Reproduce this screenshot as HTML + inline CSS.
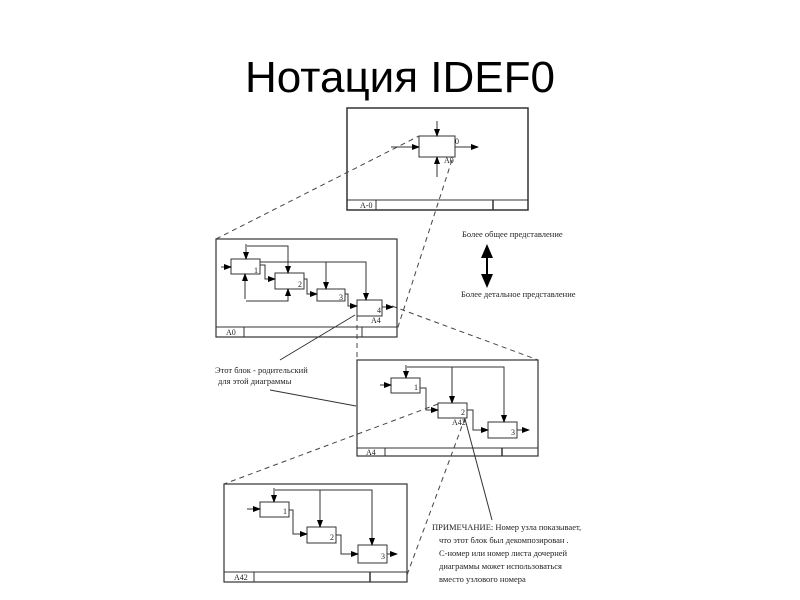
<!DOCTYPE html>
<html><head><meta charset="utf-8"><style>
html,body{margin:0;padding:0;background:#fff;width:800px;height:600px;overflow:hidden}
svg{display:block}
</style></head><body>
<svg width="800" height="600" viewBox="0 0 800 600" xmlns="http://www.w3.org/2000/svg">
<defs>
<marker id="a" markerWidth="8" markerHeight="6" refX="7" refY="3" orient="auto" markerUnits="userSpaceOnUse"><path d="M0,0 L8,3 L0,6 z" fill="#000"/></marker>
</defs>
<text x="400" y="92" font-family="Liberation Sans, sans-serif" font-size="44" text-anchor="middle" fill="#000">Нотация IDEF0</text>
<g stroke="#333" fill="none" stroke-width="1">
<!-- A-0 frame -->
<rect x="347" y="108" width="181" height="102" stroke-width="1.5"/>
<line x1="347" y1="200" x2="528" y2="200"/>
<line x1="376" y1="200" x2="376" y2="210"/>
<line x1="493" y1="200" x2="493" y2="210" stroke-width="1.5"/>
<rect x="419" y="136" width="36" height="21"/>
<line x1="391" y1="147" x2="419" y2="147" marker-end="url(#a)"/>
<line x1="455" y1="147" x2="478" y2="147" marker-end="url(#a)"/>
<line x1="437" y1="121" x2="437" y2="136" marker-end="url(#a)"/>
<line x1="437" y1="177" x2="437" y2="157" marker-end="url(#a)"/>
<!-- A0 frame -->
<rect x="216" y="239" width="181" height="98" stroke-width="1.2"/>
<line x1="216" y1="327" x2="397" y2="327"/>
<line x1="244" y1="327" x2="244" y2="337"/>
<line x1="362" y1="327" x2="362" y2="337"/>
<rect x="231" y="259" width="29" height="15"/>
<rect x="275" y="273" width="29" height="16"/>
<rect x="317" y="289" width="28" height="12"/>
<rect x="357" y="300" width="25" height="16"/>
<line x1="221" y1="267" x2="231" y2="267" marker-end="url(#a)"/>
<polyline points="246,244 246,259" marker-end="url(#a)"/>
<polyline points="247,246 288,246 288,273" marker-end="url(#a)"/>
<polyline points="260,265 265,265 265,279 275,279" marker-end="url(#a)"/>
<polyline points="260,262 326,262 326,289" marker-end="url(#a)"/>
<polyline points="260,262 366,262 366,300" marker-end="url(#a)"/>
<polyline points="304,279 307,279 307,294 317,294" marker-end="url(#a)"/>
<polyline points="345,294 348,294 348,306 357,306" marker-end="url(#a)"/>
<polyline points="245,299 245,274" marker-end="url(#a)"/>
<polyline points="246,301 288,301 288,289" marker-end="url(#a)"/>
<line x1="382" y1="307" x2="393" y2="307" marker-end="url(#a)"/>
<!-- A4 frame -->
<rect x="357" y="360" width="181" height="96" stroke-width="1.2"/>
<line x1="357" y1="448" x2="538" y2="448"/>
<line x1="385" y1="448" x2="385" y2="456"/>
<line x1="502" y1="448" x2="502" y2="456" stroke-width="1.5"/>
<rect x="391" y="378" width="29" height="15"/>
<rect x="438" y="403" width="29" height="15"/>
<rect x="488" y="422" width="29" height="16"/>
<line x1="380" y1="385" x2="391" y2="385" marker-end="url(#a)"/>
<polyline points="406,365 406,378" marker-end="url(#a)"/>
<polyline points="407,367 452,367 452,403" marker-end="url(#a)"/>
<polyline points="452,367 504,367 504,422" marker-end="url(#a)"/>
<polyline points="420,388 426,388 426,410 438,410" marker-end="url(#a)"/>
<polyline points="467,410 473,410 473,430 488,430" marker-end="url(#a)"/>
<line x1="517" y1="430" x2="529" y2="430" marker-end="url(#a)"/>
<!-- A42 frame -->
<rect x="224" y="484" width="183" height="98" stroke-width="1.2"/>
<line x1="224" y1="572" x2="407" y2="572"/>
<line x1="254" y1="572" x2="254" y2="582"/>
<line x1="370" y1="572" x2="370" y2="582" stroke-width="1.5"/>
<rect x="260" y="502" width="29" height="15"/>
<rect x="307" y="527" width="29" height="16"/>
<rect x="358" y="545" width="29" height="18"/>
<line x1="247" y1="509" x2="260" y2="509" marker-end="url(#a)"/>
<polyline points="274,488 274,502" marker-end="url(#a)"/>
<polyline points="275,490 320,490 320,527" marker-end="url(#a)"/>
<polyline points="320,490 372,490 372,545" marker-end="url(#a)"/>
<polyline points="289,510 293,510 293,534 307,534" marker-end="url(#a)"/>
<polyline points="336,535 341,535 341,554 358,554" marker-end="url(#a)"/>
<line x1="387" y1="554" x2="397" y2="554" marker-end="url(#a)"/>
</g>
<!-- dashed connectors -->
<g stroke="#444" stroke-width="1" stroke-dasharray="5,4" fill="none">
<line x1="216" y1="239" x2="419" y2="136"/>
<line x1="452" y1="160" x2="397" y2="330"/>
<line x1="357" y1="316" x2="357" y2="360"/>
<line x1="392" y1="306" x2="538" y2="360"/>
<line x1="438" y1="404" x2="224" y2="484"/>
<line x1="465" y1="418" x2="407" y2="575"/>
</g>
<g stroke="#333" stroke-width="1" fill="none">
<line x1="355" y1="315" x2="280" y2="360"/>
<line x1="270" y1="390" x2="356" y2="406"/>
<line x1="465" y1="419" x2="492" y2="520"/>
</g>
<!-- double arrow -->
<g fill="#000">
<rect x="486" y="255" width="2" height="22"/>
<path d="M481,258 L487,244 L493,258 z"/>
<path d="M481,274 L487,288 L493,274 z"/>
</g>
<g font-family="Liberation Serif, serif" font-size="8" fill="#222">
<text x="455" y="144">0</text>
<text x="444" y="163">A0</text>
<text x="360" y="208">A-0</text>
<text x="254" y="273">1</text>
<text x="298" y="287">2</text>
<text x="339" y="300">3</text>
<text x="377" y="313">4</text>
<text x="371" y="323">A4</text>
<text x="226" y="335">A0</text>
<text x="414" y="390">1</text>
<text x="461" y="415">2</text>
<text x="452" y="425">A42</text>
<text x="511" y="435">3</text>
<text x="366" y="455">A4</text>
<text x="283" y="514">1</text>
<text x="330" y="540">2</text>
<text x="381" y="559">3</text>
<text x="234" y="580">A42</text>
</g>
<g font-family="Liberation Serif, serif" font-size="8.5" fill="#222">
<text x="462" y="237">Более общее представление</text>
<text x="461" y="297">Более детальное представление</text>
<text x="215" y="373">Этот блок - родительский</text>
<text x="218" y="384">для этой диаграммы</text>
<text x="432" y="530">ПРИМЕЧАНИЕ: Номер узла показывает,</text>
<text x="439" y="543">что этот блок был декомпозирован .</text>
<text x="439" y="556">С-номер или номер листа дочерней</text>
<text x="439" y="569">диаграммы может использоваться</text>
<text x="439" y="582">вместо узлового номера</text>
</g>
</svg>
</body></html>
